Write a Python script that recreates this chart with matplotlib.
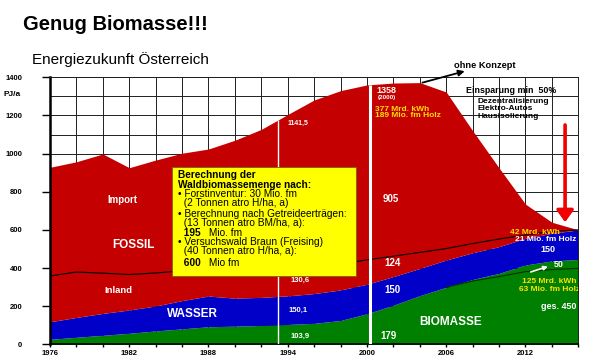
import numpy as np
import matplotlib
matplotlib.use("Agg")
import matplotlib.pyplot as plt
from matplotlib.patches import Rectangle
from matplotlib.ticker import MultipleLocator

plt.rcParams['font.family'] = ['Liberation Sans', 'DejaVu Sans']

# -----------------------------
# Data (PJ/a)
# -----------------------------
years = [1976, 1978, 1980, 1982, 1984, 1986, 1988, 1990, 1992, 1994, 1996,
         1998, 2000, 2002, 2004, 2006, 2008, 2010, 2012, 2014, 2016]
biomasse = [26, 37, 47, 58, 70, 81, 92, 95, 99, 104, 110,
            125, 160, 205, 255, 299, 340, 372, 416, 437, 445]
wasser_top = [118, 141, 162, 180, 201, 229, 253, 242, 246, 254, 266,
              285, 315, 355, 398, 442, 480, 512, 556, 582, 600]
inland_top = [358, 379, 373, 366, 374, 385, 390, 390, 386, 385, 398,
              420, 443, 462, 482, 502, 528, 552, 573, 592, 600]
total = [928, 957, 998, 926, 966, 1002, 1024, 1070, 1127, 1205, 1281,
         1330, 1360, 1370, 1372, 1323, 1120, 925, 735, 640, 600]

# lower part of biomass (the "+50" split at the end)
bio2_years = [2006, 2008, 2010, 2012, 2014, 2016]
bio2_base = [299, 332, 355, 381, 392, 398]

xtick_years = list(range(1976, 2017, 2))
ytick_vals = list(range(0, 1401, 200))

box_lines = [
    ("Berechnung der", "bold"),
    ("Waldbiomassemenge nach:", "bold"),
    ("\u2022 Forstinventur: 30 Mio. fm", "normal"),
    ("  (2 Tonnen atro H/ha, a)", "normal"),
    ("\u2022 Berechnung nach Getreideerträgen:", "normal"),
    ("  (13 Tonnen atro BM/ha, a):", "normal"),
    ("  195| Mio. fm", "mixed"),
    ("\u2022 Versuchswald Braun (Freising)", "normal"),
    ("  (40 Tonnen atro H/ha, a):", "normal"),
    ("  600| Mio fm", "mixed"),
]
box_line_y = [888, 835, 787, 739, 683, 635, 585, 538, 491, 428]

RED = "#C40000"
BLUE = "#0000C8"
GREEN = "#008000"

# -----------------------------
# Figure
# -----------------------------
fig = plt.figure(figsize=(6, 3.6), dpi=100)
ax = fig.add_axes([50 / 600, 1 - 344.3 / 360, 528.3 / 600, 267 / 360])

ax.set_xlim(1976, 2016)
ax.set_ylim(0, 1400)
ax.set_axisbelow(True)

ax.fill_between(years, 0, biomasse, color=GREEN, lw=0, zorder=2)
ax.fill_between(years, biomasse, wasser_top, color=BLUE, lw=0, zorder=2)
ax.fill_between(years, wasser_top, total, color=RED, lw=0, zorder=2)
ax.plot(years, inland_top, color="black", lw=0.8, zorder=3)
ax.plot(bio2_years, bio2_base, color="#003000", lw=0.8, zorder=3)

# white marker lines 1993 / 2000
for xv, lw in [(1993.3, 1.0), (2000.2, 2.2)]:
    ax.vlines(xv, 0, np.interp(xv, years, total), color="white", lw=lw, zorder=4)

# grid, ticks
ax.set_xticks(xtick_years)
ax.set_xticklabels([str(y) if (y - 1976) % 6 == 0 else "" for y in xtick_years])
ax.set_yticks(ytick_vals)
ax.set_yticklabels([str(v) for v in ytick_vals])
ax.yaxis.set_minor_locator(MultipleLocator(100))
ax.grid(which="both", color="#202020", lw=0.7)
ax.tick_params(axis="x", length=2.5, width=1, pad=1.5, labelsize=5.5)
ax.tick_params(axis="y", length=6, width=1, pad=14, labelsize=5.5)
ax.tick_params(axis="y", which="minor", length=0)
for lab in ax.get_xticklabels() + ax.get_yticklabels():
    lab.set_fontweight("bold")
ax.spines["left"].set_linewidth(1.8)
ax.spines["bottom"].set_linewidth(1.2)
for s in ["top", "right"]:
    ax.spines[s].set_linewidth(0.7)
    ax.spines[s].set_color("#202020")

# yellow box
ax.add_patch(Rectangle((1985.2, 359), 14.0, 573, facecolor="#FFFF00",
                       edgecolor="#806000", lw=0.6, zorder=5))
for (txt, w), yv in zip(box_lines, box_line_y):
    xv = 1985.7
    if w == "mixed":
        num, rest = txt.split("|")
        ax.text(xv, yv, num, fontsize=7.3, fontweight="bold", va="center", zorder=6)
        ax.annotate(rest, xy=(xv, yv), xytext=(20, 0), textcoords="offset points",
                    fontsize=7.3, va="center", zorder=6)
    else:
        ax.text(xv, yv, txt, fontsize=7.3, fontweight=w, va="center", zorder=6)

# labels inside areas
wb = dict(color="white", fontweight="bold", va="center", zorder=6)
ax.text(1981.5, 755, "Import", fontsize=7, ha="center", **wb)
ax.text(1982.3, 520, "FOSSIL", fontsize=8.5, ha="center", **wb)
ax.text(1981.2, 280, "Inland", fontsize=6.8, ha="center", **wb)
ax.text(1986.8, 160, "WASSER", fontsize=8.5, ha="center", **wb)
ax.text(2006.3, 115, "BIOMASSE", fontsize=8.5, ha="center", **wb)
ax.text(1994.8, 1160, "1141,5", fontsize=5, ha="center", **wb)
ax.text(1994.9, 333, "130,6", fontsize=5.5, ha="center", **wb)
ax.text(1994.8, 176, "150,1", fontsize=5.5, ha="center", **wb)
ax.text(1994.9, 43, "103,9", fontsize=5.5, ha="center", **wb)
ax.text(2001.6, 45, "179", fontsize=7, ha="center", **wb)
ax.text(2001.9, 285, "150", fontsize=7, ha="center", **wb)
ax.text(2001.9, 425, "124", fontsize=7, ha="center", **wb)
ax.text(2001.8, 760, "905", fontsize=7, ha="center", **wb)
ax.text(2001.5, 1330, "1358", fontsize=6.5, ha="center", **wb)
ax.text(2001.5, 1292, "(2000)", fontsize=4.5, ha="center", **wb)

yb = dict(color="#FFE000", fontweight="bold", va="center", zorder=6)
ax.text(2000.6, 1229, "377 Mrd. kWh", fontsize=6, ha="left", **yb)
ax.text(2000.6, 1199, "189 Mio. fm Holz", fontsize=6, ha="left", **yb)
ax.text(2012.7, 587, "42 Mrd. kWh", fontsize=6, ha="center", **yb)
ax.text(2013.5, 547, "21 Mio. fm Holz", fontsize=6, ha="center", **wb)
ax.text(2013.7, 498, "150", fontsize=6.5, ha="center", **wb)
ax.text(2014.5, 421, "50", fontsize=6.5, ha="center", **wb)
ax.text(2011.7, 328, "125 Mrd. kWh", fontsize=6, ha="left", clip_on=True, **yb)
ax.text(2011.5, 288, "63 Mio. fm Holz", fontsize=6, ha="left", clip_on=True, **yb)
ax.text(2014.5, 197, "ges. 450", fontsize=6.5, ha="center", **wb)
ax.annotate("", xy=(2013.9, 412), xytext=(2012.2, 375), zorder=6,
            arrowprops=dict(arrowstyle="-|>", color="white", lw=1.2,
                            mutation_scale=6))

# right-hand notes
bk = dict(color="black", fontweight="bold", va="center", zorder=6)
ax.text(2010.9, 1333, "Einsparung min  50%", fontsize=6.4, ha="center", **bk)
ax.text(2008.4, 1272, "Dezentralisierung", fontsize=6, ha="left", **bk)
ax.text(2008.4, 1234, "Elektro-Autos", fontsize=6, ha="left", **bk)
ax.text(2008.4, 1194, "Hausisolierung", fontsize=6, ha="left", **bk)
ax.text(2008.9, 1462, "ohne Konzept", fontsize=6.7, ha="center", clip_on=False, **bk)
ax.annotate("", xy=(2007.4, 1432), xytext=(2004.2, 1372),
            annotation_clip=False, zorder=6,
            arrowprops=dict(arrowstyle="-|>", color="black", lw=1.3,
                            mutation_scale=9, shrinkA=0, shrinkB=0))
ax.annotate("", xy=(2015.0, 640), xytext=(2015.0, 1150), zorder=6,
            arrowprops=dict(arrowstyle="-|>,head_width=0.5,head_length=0.7",
                            color="#F00000", lw=2.6, mutation_scale=10,
                            shrinkA=0, shrinkB=0))

# titles
fig.text(23 / 600, 1 - 25 / 360, "Genug Biomasse!!!", fontsize=14.5,
         fontweight="bold", va="center")
fig.text(31.7 / 600, 1 - 60 / 360, "Energiezukunft Österreich", fontsize=11,
         va="center")
fig.text(3 / 600, 1 - 95 / 360, "PJ/a", fontsize=6, fontweight="bold", va="center")

fig.savefig("out.png", dpi=100)
plt.close(fig)
